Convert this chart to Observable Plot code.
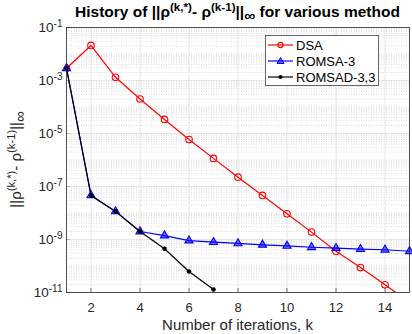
<!DOCTYPE html>
<html><head><meta charset="utf-8">
<script src="https://cdn.jsdelivr.net/npm/d3@7"></script>
<script src="https://cdn.jsdelivr.net/npm/@observablehq/plot@0.6"></script>
<style>body{margin:0;background:#fff}svg{display:block}</style>
</head><body><div id="chart"></div>
<script>
// ---- data ----
const iterations = [1,2,3,4,5,6,7,8,9,10,11,12,13,14,15];
const dsaValues = [2.9e-3, 2.1e-2, 1.32e-3, 2.0e-4, 3.4e-5, 5.9e-6, 1.15e-6, 2.24e-7, 4.6e-8, 9.3e-9, 1.9e-9, 3.6e-10, 8.7e-11, 1.95e-11, 4.4e-12];
const romsaValues = [2.9e-3, 4.6e-8, 1.15e-8, 2.0e-9, 1.41e-9, 9.1e-10, 7.9e-10, 7.1e-10, 6.3e-10, 5.75e-10, 5.1e-10, 4.7e-10, 4.3e-10, 4.1e-10, 3.6e-10];
const romsadIterations = [1,2,3,4,5,6,7];
const romsadValues = [2.9e-3, 4.6e-8, 1.15e-8, 2.0e-9, 4.5e-10, 6.2e-11, 1.3e-11];
const seriesNames = ["DSA", "ROMSA-3", "ROMSAD-3,3"];
const seriesColors = ["#ff0000", "#0000ff", "#000000"];
const xTickValues = [2,4,6,8,10,12,14];
const yTickValues = [1e-11,1e-9,1e-7,1e-5,1e-3,1e-1];
const yTickExponents = ["-11","-9","-7","-5","-3","-1"];

const dsa = iterations.map((k,i)=>({k, v:dsaValues[i]}));
const romsa = iterations.map((k,i)=>({k, v:romsaValues[i]}));
const romsad = romsadIterations.map((k,i)=>({k, v:romsadValues[i]}));

// minor log grid positions
const minorY = [];
for (let e=-11; e<=-2; e++) for (let m=1; m<=9; m++) {
  const v = m*Math.pow(10,e);
  if (m===1 && yTickValues.some(t=>Math.abs(t-v)/t<1e-6)) continue;
  minorY.push(v);
}

const font = "'Liberation Sans', Arial, Helvetica, sans-serif";
const ink = "#262626";

const chart = Plot.plot({
  width:412, height:334,
  marginLeft:66, marginRight:3, marginTop:27, marginBottom:42,
  style:{fontFamily:font, color:ink, background:"#fff", fontSize:"13px", overflow:"visible"},
  x:{domain:[1,15], ticks:xTickValues, tickSize:-4, tickPadding:14, label:null},
  y:{type:"log", domain:[1e-11,1e-1], ticks:yTickValues, tickSize:-4, tickPadding:8, label:null,
     tickFormat:(d)=>"10|"+yTickExponents[yTickValues.findIndex(t=>Math.abs(t-d)/t<1e-6)]},
  marks:[
    Plot.ruleY(minorY, {stroke:"#cfcfcf", strokeWidth:0.7, strokeDasharray:"1,1.5"}),
    Plot.ruleY(yTickValues, {stroke:"#e0e0e0", strokeWidth:0.8}),
    Plot.ruleX(xTickValues, {stroke:"#e0e0e0", strokeWidth:0.8}),
    Plot.line(dsa, {x:"k", y:"v", stroke:seriesColors[0], strokeWidth:1.2, clip:true}),
    Plot.dot(dsa, {x:"k", y:"v", r:3.3, stroke:seriesColors[0], fill:"none", strokeWidth:1.1, clip:true}),
    Plot.line(romsa, {x:"k", y:"v", stroke:seriesColors[1], strokeWidth:1.2}),
    Plot.dot(romsa, {x:"k", y:"v", symbol:"triangle", r:3, fill:seriesColors[1], fillOpacity:0.55, stroke:seriesColors[1], strokeWidth:1.1}),
    Plot.line(romsad, {x:"k", y:"v", stroke:seriesColors[2], strokeWidth:1.2}),
    Plot.dot(romsad, {x:"k", y:"v", r:2.3, fill:seriesColors[2], stroke:"none"}),
    Plot.frame({stroke:ink, strokeWidth:0.8})
  ]
});
document.getElementById("chart").appendChild(chart);

const svg = d3.select(chart.tagName.toLowerCase()==="svg" ? chart : chart.querySelector("svg"));

// superscript tick labels
svg.selectAll("text").each(function(){
  const t = this.textContent;
  if (t.startsWith("10|")) {
    const exp = t.slice(3);
    const sel = d3.select(this);
    sel.selectAll("*").remove();
    sel.text(null);
    sel.attr("font-size","13.5px");
    sel.append("tspan").text("10");
    sel.append("tspan").attr("dy","-0.5em").attr("font-size","10px").text(exp);
  }
});
svg.selectAll("text").attr("fill", ink);

// rich text helper
function rich(g, parts, size){
  parts.forEach(p=>{
    const ts = g.append("tspan").text(p.t);
    if (p.sup) ts.attr("dy",-6).attr("font-size", size*0.75+"px");
    if (p.unsup) ts.attr("dy",6);
    if (p.sub) ts.attr("dy",4);
    if (p.unsub) ts.attr("dy",-4);
  });
}
const expr = [
  {t:"||ρ"},{t:"(k,*)",sup:true},{t:"- ρ",unsup:true},{t:"(k-1)",sup:true},{t:"||",unsup:true},{t:"∞",sub:true}
];
// title
const title = svg.append("text").attr("x",237.5).attr("y",17).attr("text-anchor","middle")
  .attr("font-family",font).attr("font-weight","bold").attr("font-size","15.5px").attr("fill","#000");
rich(title, [{t:"History of "}, ...expr, {t:" for various method", unsub:true}], 15.5);
// y label
const ylab = svg.append("text").attr("transform","translate(21,159.5) rotate(-90)").attr("text-anchor","middle")
  .attr("font-family",font).attr("font-size","15px").attr("fill",ink);
rich(ylab, expr, 15);
// x label
svg.append("text").attr("x",237.5).attr("y",330).attr("text-anchor","middle")
  .attr("font-family",font).attr("font-size","15px").attr("fill",ink).text("Number of iterations, k");

// legend
const lg = svg.append("g").attr("font-family",font).attr("font-size","13px").attr("text-anchor","start");
lg.append("rect").attr("x",265.5).attr("y",35.5).attr("width",113).attr("height",50)
  .attr("fill","#fff").attr("stroke","#555").attr("stroke-width",0.9);
seriesNames.forEach((name,i)=>{
  const y = 45 + i*16;
  const c = seriesColors[i];
  lg.append("line").attr("x1",268).attr("x2",293).attr("y1",y).attr("y2",y).attr("stroke",c).attr("stroke-width",1.2);
  if (i===0) lg.append("circle").attr("cx",280.5).attr("cy",y).attr("r",2.6).attr("fill","none").attr("stroke",c).attr("stroke-width",1.1);
  if (i===1) lg.append("path").attr("d",`M280.5,${y-3.5}L284,${y+2.5}L277,${y+2.5}Z`).attr("fill",c).attr("fill-opacity",0.55).attr("stroke",c).attr("stroke-width",1);
  if (i===2) lg.append("circle").attr("cx",280.5).attr("cy",y).attr("r",2).attr("fill",c);
  lg.append("text").attr("x",296).attr("y",y+4.5).attr("text-anchor","start").attr("fill","#000").text(name);
});
</script></body></html>
